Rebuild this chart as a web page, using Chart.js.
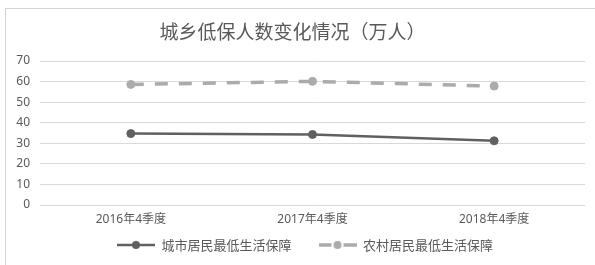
<!DOCTYPE html>
<html>
<head>
<meta charset="utf-8">
<script src="https://cdn.jsdelivr.net/npm/chart.js@4"></script>
<style>
  html, body { margin: 0; padding: 0; background: #ffffff; }
  #wrap { position: relative; width: 595px; height: 265px; }
  #c { position: absolute; left: 0; top: 0; }
  #frame { position: absolute; left: 5px; top: 8px; right: 0; bottom: 0;
           border-left: 1px solid #d4d4d4; border-top: 1px solid #d4d4d4; pointer-events: none; }
</style>
</head>
<body>
<div id="wrap">
  <canvas id="c" width="595" height="265"></canvas>
  <div id="frame"></div>
</div>
<script>
const titleText = '城乡低保人数变化情况（万人）';
const categories = ['2016年4季度', '2017年4季度', '2018年4季度'];
const seriesNames = ['城市居民最低生活保障', '农村居民最低生活保障'];
const cityValues = [34.7, 34.3, 31.2];
const ruralValues = [58.6, 60.1, 57.8];
const yTicks = [0, 10, 20, 30, 40, 50, 60, 70];

const FONT = "'Noto Sans', 'Noto Sans CJK SC', sans-serif";
const CJK = "'Noto Sans CJK SC', sans-serif";
const TEXT = '#595959';
const CITY = '#606060';
const RURAL = '#ababab';

function legendImage(color, dashed) {
  const cv = document.createElement('canvas');
  cv.width = 38; cv.height = 10;
  const g = cv.getContext('2d');
  g.strokeStyle = color;
  g.lineWidth = dashed ? 3.5 : 2.5;
  g.lineCap = 'butt';
  g.beginPath();
  if (dashed) {
    g.moveTo(0, 5); g.lineTo(13, 5);
    g.moveTo(25, 5); g.lineTo(38, 5);
  } else {
    g.moveTo(0, 5); g.lineTo(38, 5);
  }
  g.stroke();
  g.fillStyle = color;
  g.beginPath();
  g.arc(19, 5, 4, 0, Math.PI * 2);
  g.fill();
  return cv;
}
const legendImgs = [legendImage(CITY, false), legendImage(RURAL, true)];

const legendPlace = {
  id: 'legendPlace',
  beforeDraw(chart) {
    const lg = chart.legend;
    if (!lg) return;
    lg.left = 25;
    lg.right = 585;
    lg.top = 211.5;
  }
};

new Chart(document.getElementById('c'), {
  type: 'line',
  data: {
    labels: categories,
    datasets: [
      {
        label: seriesNames[0],
        data: cityValues,
        borderColor: CITY,
        backgroundColor: CITY,
        borderWidth: 2.5,
        pointRadius: 4,
        pointBorderWidth: 1,
        pointBackgroundColor: CITY,
        pointBorderColor: CITY,
        tension: 0,
        fill: false
      },
      {
        label: seriesNames[1],
        data: ruralValues,
        borderColor: RURAL,
        backgroundColor: RURAL,
        borderWidth: 3.5,
        borderDash: [13, 11],
        pointRadius: 4,
        pointBorderWidth: 1,
        pointBackgroundColor: RURAL,
        pointBorderColor: RURAL,
        tension: 0,
        fill: false
      }
    ]
  },
  plugins: [legendPlace],
  options: {
    responsive: false,
    animation: false,
    devicePixelRatio: 1,
    layout: { padding: { left: 0, right: 10, top: 0, bottom: 1.6 } },
    plugins: {
      title: {
        display: true,
        text: titleText,
        color: TEXT,
        font: { family: CJK, size: 19, weight: 'normal' },
        padding: { top: 20.6, bottom: 17.6 }
      },
      legend: {
        display: true,
        position: 'bottom',
        maxHeight: 30,
        labels: {
          color: TEXT,
          font: { family: CJK, size: 13 },
          usePointStyle: true,
          pointStyleWidth: 38,
          boxHeight: 10,
          padding: 27,
          generateLabels: (chart) => {
            const items = Chart.defaults.plugins.legend.labels.generateLabels(chart);
            items.forEach((it, i) => { it.pointStyle = legendImgs[i]; });
            return items;
          }
        }
      },
      tooltip: { enabled: false }
    },
    scales: {
      x: {
        offset: true,
        grid: { display: false, drawTicks: false },
        border: { display: false },
        ticks: { color: TEXT, padding: 7, font: { family: FONT, size: 12 }, maxRotation: 0 }
      },
      y: {
        min: 0,
        max: 70,
        afterBuildTicks: (s) => { s.ticks = yTicks.map(v => ({ value: v })); },
        grid: { color: '#d9d9d9', lineWidth: 1, drawTicks: false },
        border: { display: false },
        ticks: { color: TEXT, padding: 10, font: { family: FONT, size: 12 } },
        afterFit: (s) => { s.width = 40; }
      }
    }
  }
});
</script>
</body>
</html>
